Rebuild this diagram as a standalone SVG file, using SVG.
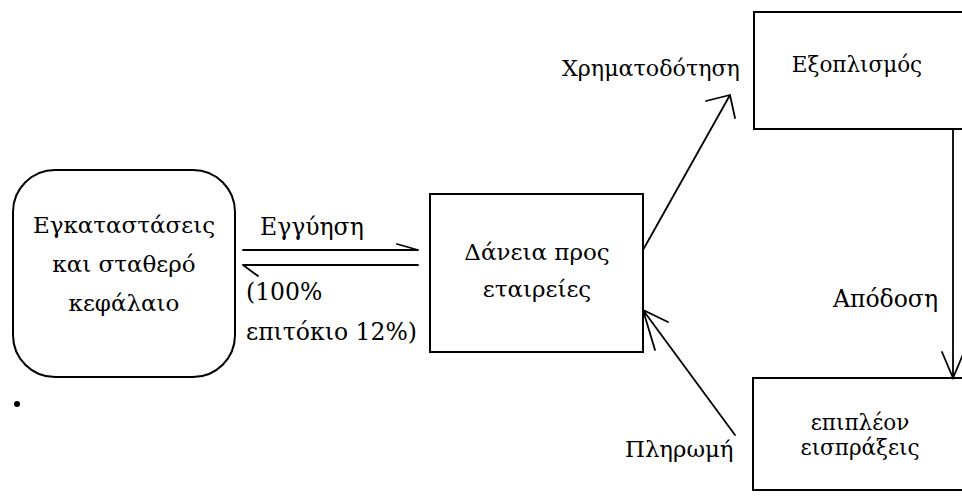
<svg xmlns="http://www.w3.org/2000/svg" width="962" height="501" viewBox="0 0 962 501" font-family="'DejaVu Serif', 'Liberation Serif', serif">
  <style>
    .box { fill: none; stroke: #000; stroke-width: 2; }
    .line { fill: none; stroke: #000; stroke-width: 1.8; stroke-linecap: round; }
    text { fill: #000; }
    .lg { font-size: 23px; }
    .md { font-size: 23.5px; }
    .sm { font-size: 21.5px; }
  </style>
  <rect width="962" height="501" fill="#fff"/>

  <!-- nodes -->
  <g id="node-fixed-capital">
    <rect class="box" x="13" y="170" width="222" height="207" rx="42" ry="42"/>
    <text class="lg" x="124" y="233" text-anchor="middle">Εγκαταστάσεις</text>
    <text class="lg" x="124" y="272" text-anchor="middle">και σταθερό</text>
    <text class="lg" x="124" y="311" text-anchor="middle">κεφάλαιο</text>
  </g>

  <g id="node-loans">
    <rect class="box" x="430" y="194" width="213" height="158"/>
    <text class="lg" x="537" y="260" text-anchor="middle">Δάνεια προς</text>
    <text class="lg" x="537" y="297" text-anchor="middle">εταιρείες</text>
  </g>

  <g id="node-equipment">
    <rect class="box" x="754" y="12" width="220" height="117"/>
    <text x="857" y="72" text-anchor="middle" style="font-size:21.5px">Εξοπλισμός</text>
  </g>

  <g id="node-revenue">
    <rect class="box" x="753" y="378" width="220" height="112"/>
    <text class="sm" x="860" y="430" text-anchor="middle">επιπλέον</text>
    <text class="sm" x="860" y="455" text-anchor="middle">εισπράξεις</text>
  </g>

  <!-- stray speck -->
  <circle cx="17" cy="404" r="3" fill="#000"/>

  <!-- connectors -->
  <g id="connectors">
    <!-- guarantee (half arrow to the right) -->
    <path class="line" d="M243,250 H418 M397,244 L418,250"/>
    <!-- interest (half arrow to the left) -->
    <path class="line" d="M418,265 H243 M258,276 L243,265"/>
    <!-- financing -->
    <path class="line" d="M643,250 L730,95 M706,101 L730,95 L735,118"/>
    <!-- yield -->
    <path class="line" d="M953,129 V378 M942,352 L953,378 L964,352"/>
    <!-- payment -->
    <path class="line" d="M735,435 L643,310 M668,322 L643,310 L655,350"/>
  </g>

  <!-- connector labels -->
  <g id="labels">
    <text class="md" x="260" y="235">Εγγύηση</text>
    <text class="md" x="246" y="300">(100%</text>
    <text class="md" x="246" y="340">επιτόκιο 12%)</text>
    <text x="562" y="76" style="font-size:22.2px">Χρηματοδότηση</text>
    <text class="md" x="833" y="307">Απόδοση</text>
    <text x="625" y="457" style="font-size:22.8px">Πληρωμή</text>
  </g>
</svg>
